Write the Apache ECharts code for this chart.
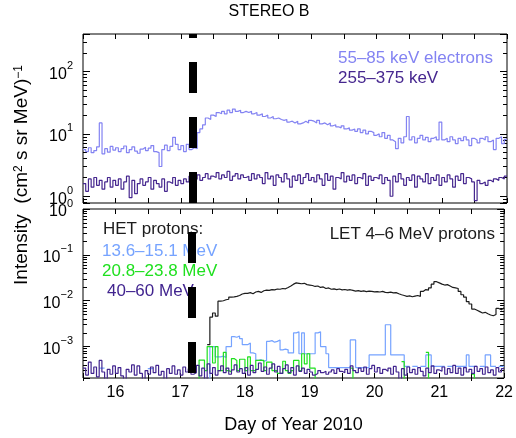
<!DOCTYPE html>
<html>
<head>
<meta charset="utf-8">
<script src="https://cdn.jsdelivr.net/npm/echarts@6/dist/echarts.min.js"></script>
<style>
  html, body { margin: 0; padding: 0; background: #fff; }
  #chart { width: 516px; height: 438px; }
</style>
</head>
<body>
<div id="chart"></div>
<script>
// STEREO-B particle intensities, hourly bins from day-of-year 15.5 to 22.0 (2010)
const T_START = 15.5;
const BINS_PER_DAY = 24;

// Electrons 55–85 keV
const e55 = [
  5.6,5.2,6.0,5.0,5.4,6.2,15,4.8,5.8,5.1,6.3,5.5,
  6.0,5.2,5.8,6.4,5.0,5.6,6.2,5.3,4.9,5.7,6.1,5.4,5.9,6.5,5.2,5.0,3.0,5.6,6.6,5.4,6.3,8.8,6.8,5.6,
  6.5,5.2,6.8,5.6,6.0,5.8,10.5,12,14,18,17,20,19,22,21,23,21,24,22,25,23,24,22,23,
  22,23,21,22,20,21,19,20,18,19,17.5,18,17,16.5,17,15.5,16,15,16,14.5,15,16,15,16.5,
  16,15,16.5,14.5,15,14,15,13.5,14,13,12.5,13.5,12,12.5,11.5,12,11,12,10.5,11.5,10,11,10.5,9.5,
  10,9,10.5,8.5,9.5,8,7.5,5.8,8.5,7.2,9,19,8,9,7.2,8.5,9.5,8,8.8,7.5,8.5,9,8,15.5,
  8,8.5,7.5,9,8,7,8.5,7.8,9,8,6.5,8.5,8,7.2,8.5,8,9,7.5,8,5.6,8.5,9,7,8.2
];

// Electrons 255–375 keV
const e255 = [
  1.6,1.2,1.9,1.4,2.0,1.5,1.8,1.3,1.7,2.0,1.4,1.8,
  1.5,1.9,1.3,1.7,2.1,0.95,1.8,1.1,1.6,1.9,1.5,1.7,2.0,1.3,1.8,1.6,1.4,1.9,1.2,1.7,1.6,2.0,1.5,1.8,
  1.6,1.9,1.7,2.1,1.8,1.9,2.2,1.8,2.0,2.3,1.9,2.1,2.0,2.4,1.9,2.2,2.0,2.5,1.8,2.1,2.3,1.9,2.2,2.0,
  2.1,1.8,2.3,1.9,2.2,2.0,1.6,2.4,1.9,2.1,1.5,2.2,2.0,1.7,2.3,1.9,1.4,2.1,1.8,2.2,1.6,2.0,2.3,1.8,
  2.0,1.7,2.2,1.9,1.5,2.3,1.8,2.1,1.3,2.0,1.9,2.4,1.7,2.1,1.8,2.2,1.6,2.0,1.9,2.3,1.5,2.1,1.8,2.0,
  1.9,2.2,1.6,2.0,1.8,1.0,2.1,1.7,2.3,1.9,1.5,2.0,1.8,2.2,1.4,2.1,1.9,1.7,2.3,1.6,2.0,1.8,2.2,1.5,
  2.0,1.7,2.2,1.9,1.4,2.1,1.8,2.3,1.6,2.0,1.9,1.7,0.85,1.8,1.6,1.7,1.5,1.8,1.7,1.9,1.8,2.0,1.9,2.1
];

// HET protons 13.6–15.1 MeV
const het13 = [
  null,null,null,null,null,null,3.4e-4,3.4e-4,null,null,null,null,
  null,null,null,null,null,null,null,null,null,null,null,null,3.3e-4,3.3e-4,null,null,null,null,null,null,null,null,null,null,
  null,null,null,null,null,null,null,null,null,null,1.5e-4,1.0e-3,1.0e-3,6.0e-4,6.0e-4,6.2e-4,5.8e-4,1.0e-3,1.0e-3,1.65e-3,1.6e-3,1.7e-3,1.5e-3,1.1e-3,
  1.1e-3,1.2e-3,7.3e-4,7.0e-4,5.0e-4,5.2e-4,4.8e-4,5.0e-4,1.3e-3,1.35e-3,1.25e-3,1.3e-3,1.4e-3,8.5e-4,8.8e-4,8.5e-4,7.3e-4,7.3e-4,2.0e-3,2.1e-3,7.0e-4,2.0e-3,7.0e-4,7.0e-4,
  7.0e-4,7.0e-4,2.0e-3,2.1e-3,1.0e-3,1.0e-3,7.0e-4,3.5e-4,3.5e-4,3.5e-4,3.5e-4,3.5e-4,3.5e-4,3.5e-4,3.5e-4,1.4e-3,1.4e-3,3.5e-4,3.5e-4,3.5e-4,3.5e-4,3.5e-4,6.6e-4,6.6e-4,
  6.6e-4,6.6e-4,6.6e-4,6.6e-4,3.0e-3,3.0e-3,6.6e-4,6.6e-4,6.6e-4,6.6e-4,6.6e-4,3.7e-4,3.7e-4,null,3.7e-4,3.7e-4,null,3.7e-4,3.7e-4,6.6e-4,6.6e-4,3.7e-4,3.7e-4,3.7e-4,
  3.7e-4,3.7e-4,null,3.7e-4,3.7e-4,null,3.7e-4,3.7e-4,3.7e-4,3.7e-4,6.6e-4,3.7e-4,3.7e-4,3.7e-4,null,3.7e-4,3.7e-4,6.6e-4,6.6e-4,3.7e-4,3.7e-4,null,3.7e-4,3.7e-4
];

// HET protons 20.8–23.8 MeV
const het20 = [
  null,null,null,null,null,null,null,null,null,null,null,null,
  null,null,null,null,null,null,null,null,null,null,null,null,null,null,null,null,null,null,null,null,null,null,null,null,
  null,null,null,null,null,null,1.5e-4,5.1e-4,5.1e-4,3.0e-4,1.0e-3,1.0e-3,4.4e-4,1.0e-3,3.0e-4,3.0e-4,7.5e-4,3.0e-4,2.8e-4,5.5e-4,5.0e-4,3.0e-4,5.3e-4,5.3e-4,
  3.0e-4,6.0e-4,3.0e-4,3.0e-4,5.0e-4,5.0e-4,5.0e-4,3.0e-4,4.6e-4,4.6e-4,3.0e-4,3.0e-4,2.6e-4,2.6e-4,4.8e-4,3.0e-4,2.6e-4,3.0e-4,5.0e-4,5.0e-4,3.0e-4,7.0e-4,4.2e-4,7.0e-4,
  3.4e-4,3.4e-4,1.5e-4,null,null,null,null,null,null,null,null,null,null,null,null,3.4e-4,1.5e-4,null,null,null,null,null,null,null,
  null,null,null,null,null,null,null,null,null,null,4.7e-4,1.5e-4,null,null,null,null,null,null,null,7.5e-4,1.5e-4,null,null,null,
  null,null,null,null,null,null,null,null,null,null,null,null,2.5e-4,1.5e-4,null,null,null,null,null,null,null,null,null,null
];

// HET protons 40–60 MeV
const het40 = [
  3.4e-4,2.4e-4,4.6e-4,2.6e-4,3.6e-4,2.2e-4,5.0e-4,2.8e-4,1.5e-4,3.2e-4,2.5e-4,3.8e-4,
  2.6e-4,3.5e-4,2.3e-4,1.5e-4,3.2e-4,2.8e-4,4.0e-4,2.4e-4,3.8e-4,2.6e-4,1.5e-4,3.0e-4,2.5e-4,3.6e-4,2.7e-4,3.9e-4,2.4e-4,2.9e-4,1.5e-4,3.3e-4,2.6e-4,3.8e-4,2.5e-4,3.1e-4,
  2.4e-4,3.6e-4,2.8e-4,3.3e-4,2.5e-4,2.7e-4,3.9e-4,2.3e-4,3.4e-4,1.5e-4,4.2e-4,2.6e-4,3.5e-4,2.4e-4,3.0e-4,3.8e-4,2.7e-4,3.4e-4,2.5e-4,3.1e-4,4.0e-4,2.8e-4,3.3e-4,2.6e-4,
  3.5e-4,2.4e-4,3.9e-4,2.7e-4,3.2e-4,4.4e-4,2.9e-4,3.6e-4,2.5e-4,3.4e-4,4.2e-4,2.8e-4,3.7e-4,2.6e-4,3.3e-4,4.0e-4,2.7e-4,3.5e-4,2.4e-4,3.8e-4,2.9e-4,3.4e-4,2.6e-4,3.2e-4,
  2.8e-4,2.4e-4,2.6e-4,3.0e-4,2.7e-4,2.9e-4,2.5e-4,2.8e-4,3.1e-4,2.6e-4,3.3e-4,2.9e-4,2.7e-4,3.2e-4,2.6e-4,3.8e-4,3.0e-4,2.7e-4,3.4e-4,2.9e-4,3.6e-4,2.5e-4,3.3e-4,3.9e-4,
  2.8e-4,3.5e-4,2.6e-4,3.2e-4,2.9e-4,3.4e-4,2.5e-4,3.7e-4,2.8e-4,1.5e-4,3.3e-4,2.4e-4,3.6e-4,2.7e-4,3.2e-4,2.5e-4,3.5e-4,2.9e-4,2.3e-4,3.4e-4,2.7e-4,3.8e-4,2.6e-4,3.1e-4,
  2.9e-4,3.6e-4,2.5e-4,3.3e-4,2.7e-4,3.9e-4,2.6e-4,3.4e-4,2.4e-4,3.5e-4,2.8e-4,3.2e-4,2.6e-4,3.7e-4,2.9e-4,3.3e-4,2.5e-4,3.6e-4,2.7e-4,3.1e-4,2.4e-4,3.5e-4,2.8e-4,3.3e-4
];

// LET protons 4–6 MeV
const let4 = [
  null,null,null,null,null,null,null,null,null,null,null,null,
  null,null,null,null,null,null,null,null,null,null,null,null,null,null,null,null,null,null,null,null,null,null,null,null,
  null,null,null,null,null,null,null,null,null,null,1.1e-3,4.4e-3,5.4e-3,4.6e-3,9.8e-3,1.0e-2,1.05e-2,1.08e-2,1.2e-2,1.22e-2,1.25e-2,1.3e-2,1.4e-2,1.45e-2,
  1.45e-2,1.5e-2,1.42e-2,1.55e-2,1.6e-2,1.52e-2,1.65e-2,1.7e-2,1.68e-2,1.75e-2,1.72e-2,1.8e-2,1.78e-2,1.85e-2,1.82e-2,1.95e-2,2.1e-2,2.3e-2,2.45e-2,2.4e-2,2.35e-2,2.4e-2,2.25e-2,2.2e-2,
  2.15e-2,2.05e-2,2.1e-2,1.95e-2,2.0e-2,1.85e-2,1.9e-2,1.78e-2,1.82e-2,1.75e-2,1.8e-2,1.72e-2,1.76e-2,1.7e-2,1.74e-2,1.68e-2,1.62e-2,1.66e-2,1.6e-2,1.64e-2,1.58e-2,1.62e-2,1.6e-2,1.56e-2,
  1.58e-2,1.55e-2,1.6e-2,1.52e-2,1.5e-2,1.54e-2,1.48e-2,1.5e-2,1.42e-2,1.35e-2,1.3e-2,1.25e-2,1.28e-2,1.22e-2,1.26e-2,1.3e-2,1.25e-2,1.6e-2,1.75e-2,1.7e-2,1.9e-2,2.3e-2,2.6e-2,2.45e-2,
  2.3e-2,2.2e-2,2.25e-2,2.1e-2,1.95e-2,1.9e-2,1.85e-2,1.6e-2,1.35e-2,1.2e-2,9.6e-3,8.5e-3,6.6e-3,6.2e-3,5.8e-3,5.4e-3,5.6e-3,5.2e-3,4.9e-3,4.7e-3,5.0e-3,6.8e-3,6.4e-3,7.0e-3
];

// Shock / event time marker
const eventDay = 17.18;

// Axis ranges
const topRange = [0.78, 400];
const botRange = [2.07e-4, 1];
const dayRange = [15.5, 22];
const dayTicks = [16, 17, 18, 19, 20, 21, 22];
const halfDayTicks = [15.5, 16.5, 17.5, 18.5, 19.5, 20.5, 21.5];

const FONT = '"Liberation Sans", Arial, Helvetica, sans-serif';
const COL = {
  e55: '#8383f2',
  e255: '#46278f',
  het13: '#76a3ff',
  het20: '#1fe01f',
  het40: '#41248f',
  let4: '#1c1c1c'
};

// Turn hourly bins into step-line points; last bin is closed at its right edge.
function toSteps(values) {
  const pts = values.map((v, i) => [T_START + i / BINS_PER_DAY, v]);
  const n = values.length;
  pts.push([T_START + n / BINS_PER_DAY, values[n - 1]]);
  return pts;
}

function minorValues(lo, hi) {
  const out = [];
  for (let p = Math.floor(Math.log10(lo)); p <= Math.ceil(Math.log10(hi)); p++) {
    for (let k = 2; k <= 9; k++) {
      const v = k * Math.pow(10, p);
      if (v > lo && v < hi) out.push(v);
    }
  }
  return out;
}

function powLabel(v) {
  const e = Math.log10(v);
  const n = Math.round(e);
  if (Math.abs(e - n) > 1e-6) return '';
  return '{b|10}{s|' + (n < 0 ? '\u2212' + (-n) : String(n)) + '}';
}

const labelRich = {
  b: { fontSize: 16, fontFamily: FONT, color: '#000', lineHeight: 22, verticalAlign: 'bottom' },
  s: { fontSize: 11, fontFamily: FONT, color: '#000', lineHeight: 12, verticalAlign: 'top' }
};

function yMajor(grid, pos, range, labels) {
  return {
    type: 'log', logBase: 10, gridIndex: grid, position: pos,
    min: range[0], max: range[1],
    axisLine: { show: false }, splitLine: { show: false },
    axisTick: { show: true, inside: true, length: 7, lineStyle: { color: '#000', width: 1 } },
    axisLabel: { show: labels, formatter: powLabel, rich: labelRich, margin: 10 }
  };
}
function yMinor(grid, pos, range) {
  return {
    type: 'log', logBase: 10, gridIndex: grid, position: pos,
    min: range[0], max: range[1],
    axisLine: { show: false }, splitLine: { show: false },
    axisTick: { show: true, inside: true, length: 4, customValues: minorValues(range[0], range[1]),
                lineStyle: { color: '#000', width: 1 } },
    axisLabel: { show: false }
  };
}
function xAxisDef(grid, pos, labels, extra) {
  return Object.assign({
    type: 'value', gridIndex: grid, position: pos,
    min: dayRange[0], max: dayRange[1], interval: 0.5,
    axisLine: { show: false }, splitLine: { show: false },
    axisTick: { show: true, inside: true, length: 5, lineStyle: { color: '#000', width: 1 } },
    axisLabel: {
      show: labels, margin: 7, fontSize: 16, fontFamily: FONT, color: '#000',
      formatter: v => (dayTicks.indexOf(v) >= 0 ? String(v) : '')
    }
  }, extra || {});
}

function stepSeries(name, data, xi, yi, color, z, extra) {
  return Object.assign({
    name, type: 'line', step: 'end', xAxisIndex: xi, yAxisIndex: yi,
    data: toSteps(data), showSymbol: false, symbol: 'none', clip: true,
    connectNulls: false, z: z,
    lineStyle: { color: color, width: 1.2 }, emphasis: { disabled: true }
  }, extra || {});
}

function eventMarker(offset) {
  return {
    silent: true, symbol: 'none', animation: false,
    label: { show: false },
    lineStyle: { color: '#000', width: 8, type: [31, 24], dashOffset: offset },
    data: [{ xAxis: eventDay }]
  };
}

const chart = echarts.init(document.getElementById('chart'), null, { renderer: 'canvas' });

const legendFont = '17px ' + FONT;

const option = {
  animation: false,
  backgroundColor: '#fff',
  grid: [
    { left: 83, top: 34, width: 424, height: 169, show: true, borderColor: '#000', borderWidth: 1, backgroundColor: 'transparent' },
    { left: 83, top: 209, width: 424, height: 169, show: true, borderColor: '#000', borderWidth: 1, backgroundColor: 'transparent' }
  ],
  xAxis: [
    xAxisDef(0, 'bottom', false),
    xAxisDef(0, 'top', false),
    xAxisDef(1, 'bottom', true, {
      name: 'Day of Year 2010', nameLocation: 'middle', nameGap: 38,
      nameTextStyle: { fontSize: 18, fontFamily: FONT, color: '#000' }
    }),
    xAxisDef(1, 'top', false),
    // short outward ticks at the half days below the lower panel
    xAxisDef(1, 'bottom', false, {
      axisTick: { show: true, inside: false, length: 3, customValues: halfDayTicks,
                  lineStyle: { color: '#000', width: 1 } }
    })
  ],
  yAxis: [
    yMajor(0, 'left', topRange, true),
    yMinor(0, 'left', topRange),
    yMajor(0, 'right', topRange, false),
    yMinor(0, 'right', topRange),
    yMajor(1, 'left', botRange, true),
    yMinor(1, 'left', botRange),
    yMajor(1, 'right', botRange, false),
    yMinor(1, 'right', botRange)
  ],
  series: [
    stepSeries('55–85 keV electrons', e55, 0, 0, COL.e55, 2, { markLine: eventMarker(0) }),
    stepSeries('255–375 keV', e255, 0, 0, COL.e255, 3),
    stepSeries('13.6–15.1 MeV', het13, 2, 4, COL.het13, 2),
    stepSeries('20.8–23.8 MeV', het20, 2, 4, COL.het20, 3),
    stepSeries('40–60 MeV', het40, 2, 4, COL.het40, 4),
    stepSeries('LET 4–6 MeV protons', let4, 2, 4, COL.let4, 5, { markLine: eventMarker(50) })
  ],
  graphic: [
    { type: 'text', x: 269, y: 12, silent: true,
      style: { text: 'STEREO B', font: '16px ' + FONT, fill: '#000', align: 'center', verticalAlign: 'middle' } },
    { type: 'text', x: 22, y: 175, rotation: Math.PI / 2, silent: true,
      style: {
        text: 'Intensity  (cm{s|2} s sr MeV){s|\u22121}',
        font: '19px ' + FONT, fill: '#000', align: 'center', verticalAlign: 'middle',
        rich: {
          s: { fontSize: 12, fontFamily: FONT, fill: '#000', verticalAlign: 'top', lineHeight: 12 }
        }
      } },
    { type: 'text', x: 338, y: 58, silent: true,
      style: { text: '55–85 keV electrons', font: legendFont, fill: COL.e55, align: 'left', verticalAlign: 'middle' } },
    { type: 'text', x: 338, y: 78, silent: true,
      style: { text: '255–375 keV', font: legendFont, fill: COL.e255, align: 'left', verticalAlign: 'middle' } },
    { type: 'text', x: 495, y: 234, silent: true,
      style: { text: 'LET 4–6 MeV protons', font: legendFont, fill: '#1c1c1c', align: 'right', verticalAlign: 'middle' } },
    { type: 'text', x: 103, y: 229, silent: true,
      style: { text: 'HET protons:', font: legendFont, fill: '#1c1c1c', align: 'left', verticalAlign: 'middle' } },
    { type: 'text', x: 102, y: 251, silent: true,
      style: { text: '13.6–15.1 MeV', font: legendFont, fill: COL.het13, align: 'left', verticalAlign: 'middle' } },
    { type: 'text', x: 102, y: 271, silent: true,
      style: { text: '20.8–23.8 MeV', font: legendFont, fill: COL.het20, align: 'left', verticalAlign: 'middle' } },
    { type: 'text', x: 107, y: 291, silent: true,
      style: { text: '40–60 MeV', font: legendFont, fill: COL.het40, align: 'left', verticalAlign: 'middle' } }
  ]
};

chart.setOption(option);
</script>
</body>
</html>
